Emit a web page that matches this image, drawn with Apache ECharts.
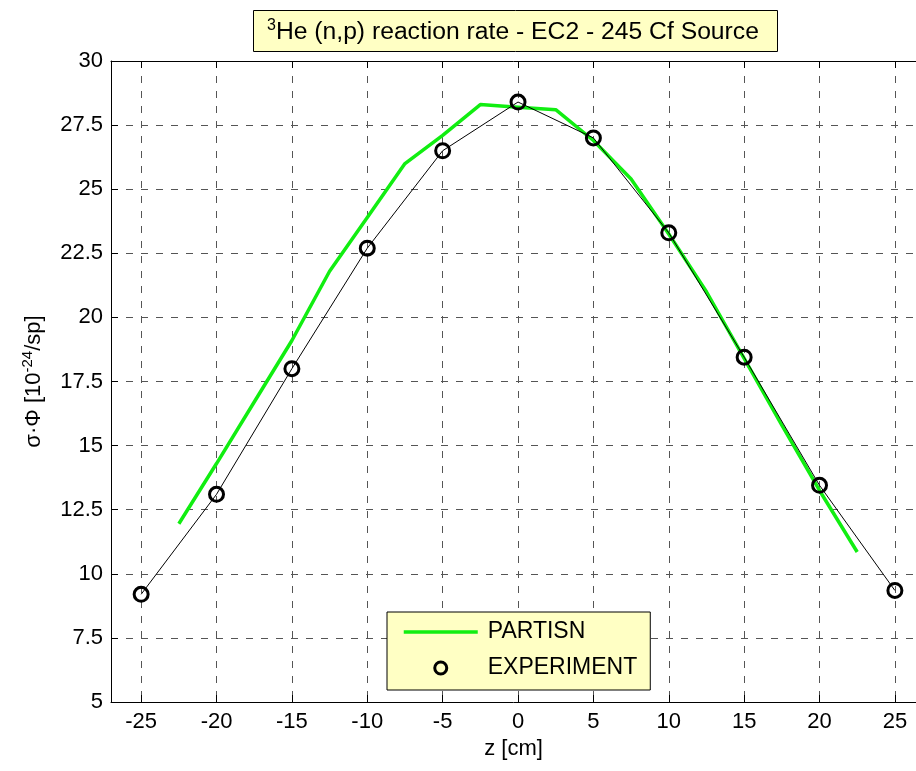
<!DOCTYPE html>
<html>
<head>
<meta charset="utf-8">
<script src="https://cdn.jsdelivr.net/npm/echarts@6/dist/echarts.min.js"></script>
<style>
html,body{margin:0;padding:0;background:#fff;}
#chart{width:916px;height:771px;}
</style>
</head>
<body>
<div id="chart"></div>
<script>
// ---- data ----
const partisnZ = [-22.5, -20, -17.5, -15, -12.5, -10, -7.5, -5, -2.5, 0, 2.5, 5, 7.5, 10, 12.5, 15, 17.5, 20, 22.5];
const partisnVal = [11.95, 14.3, 16.7, 19.1, 21.8, 23.9, 26.0, 27.1, 28.3, 28.2, 28.1, 26.9, 25.4, 23.25, 21.0, 18.4, 15.8, 13.25, 10.85];
const expZ = [-25, -20, -15, -10, -5, 0, 5, 10, 15, 20, 25];
const expVal = [9.2, 13.1, 18.0, 22.7, 26.5, 28.4, 27.0, 23.3, 18.45, 13.45, 9.35];
const xTicks = [-25, -20, -15, -10, -5, 0, 5, 10, 15, 20, 25];
const yTicks = [5, 7.5, 10, 12.5, 15, 17.5, 20, 22.5, 25, 27.5, 30];

const FONT = 'Liberation Sans, Arial, Helvetica, sans-serif';
const GREEN = '#11ee11';
const partisnData = partisnZ.map((z, i) => [z, partisnVal[i]]);
const expData = expZ.map((z, i) => [z, expVal[i]]);

const chart = echarts.init(document.getElementById('chart'));
const gridLine = { show: true, lineStyle: { color: '#555', width: 1, type: [7, 8] } };

chart.setOption({
  backgroundColor: '#fff',
  animation: false,
  textStyle: { fontFamily: FONT },
  title: {
    text: '{sup|3}He (n,p) reaction rate - EC2 - 245 Cf Source',
    left: 253, top: 10,
    padding: [8, 19, 7, 14],
    backgroundColor: '#ffffc4',
    borderColor: '#000', borderWidth: 1,
    textStyle: {
      fontFamily: FONT, fontSize: 24.7, fontWeight: 'normal', color: '#000',
      rich: {
        sup: { fontFamily: FONT, fontSize: 16, color: '#000', padding: [0, 0, 12, 0] }
      }
    }
  },
  legend: {
    orient: 'vertical',
    left: 387, top: 612,
    padding: [8, 13, 10, 15],
    backgroundColor: '#ffffc4',
    borderColor: '#000', borderWidth: 1, borderRadius: 0,
    itemWidth: 74, itemHeight: 12, itemGap: 12,
    textStyle: { fontFamily: FONT, fontSize: 23, color: '#000', lineHeight: 24, padding: [0, 0, 0, 5] },
    data: [
      { name: 'PARTISN', itemStyle: { opacity: 0 }, lineStyle: { color: GREEN, width: 3.5 } },
      { name: 'EXPERIMENT', itemStyle: { color: 'rgba(0,0,0,0)', borderColor: '#000', borderWidth: 3 } }
    ]
  },
  grid: { left: 111, top: 61, right: 0, bottom: 69, containLabel: false },
  xAxis: [{
    type: 'value', min: -27, max: 26.4,
    name: 'z [cm]', nameLocation: 'middle', nameGap: 34,
    nameTextStyle: { fontFamily: FONT, fontSize: 22, color: '#000' },
    axisLine: { show: true, onZero: false, lineStyle: { color: '#000', width: 1 } },
    axisTick: { show: true, inside: true, length: 7, customValues: xTicks, lineStyle: { color: '#000' } },
    axisLabel: { customValues: xTicks, margin: 9, fontFamily: FONT, fontSize: 22, color: '#000' },
    splitLine: gridLine
  }, {
    type: 'value', min: -27, max: 26.4, position: 'top',
    axisLine: { show: true, onZero: false, lineStyle: { color: '#000', width: 1 } },
    axisTick: { show: true, inside: true, length: 7, customValues: xTicks, lineStyle: { color: '#000' } },
    axisLabel: { show: false, customValues: xTicks },
    splitLine: { show: false }
  }],
  yAxis: [{
    type: 'value', min: 5, max: 30, interval: 2.5,
    name: 'σ·Φ [10{sup|-24}/sp]', nameLocation: 'middle', nameRotate: 90, nameGap: 64,
    nameTextStyle: {
      fontFamily: FONT, fontSize: 22, color: '#000',
      rich: { sup: { fontFamily: FONT, fontSize: 15, color: '#000', padding: [0, 0, 12, 0] } }
    },
    axisLine: { show: true, onZero: false, lineStyle: { color: '#000', width: 1 } },
    axisTick: { show: true, inside: true, length: 7, lineStyle: { color: '#000' } },
    axisLabel: { margin: 8, fontFamily: FONT, fontSize: 22, color: '#000' },
    splitLine: gridLine
  }],
  series: [{
    name: 'PARTISN', type: 'line', data: partisnData, xAxisIndex: 0, yAxisIndex: 0,
    symbol: 'none', showSymbol: false,
    lineStyle: { color: GREEN, width: 3.5 },
    itemStyle: { color: GREEN },
    z: 2
  }, {
    name: 'exp-line', type: 'line', data: expData,
    symbol: 'none', showSymbol: false,
    lineStyle: { color: '#000', width: 1 },
    z: 3
  }, {
    name: 'EXPERIMENT', type: 'scatter', data: expData,
    symbol: 'circle', symbolSize: 14,
    itemStyle: { color: 'rgba(0,0,0,0)', borderColor: '#000', borderWidth: 3, opacity: 1 },
    z: 4
  }]
});
</script>
</body>
</html>
